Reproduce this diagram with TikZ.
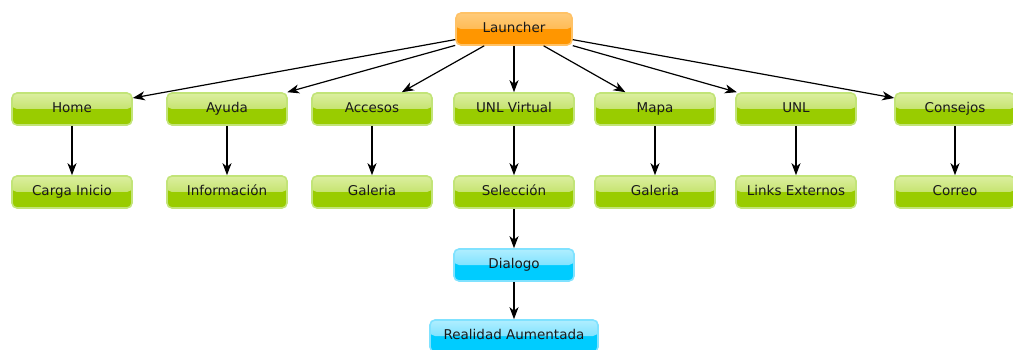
\documentclass[tikz,border=0pt]{standalone}
\usepackage{fontspec}
\setmainfont{DejaVu Sans}
\usetikzlibrary{arrows.meta}
\definecolor{grnTop}{HTML}{DCEFA0}
\definecolor{grnMid}{HTML}{B0D840}
\definecolor{grnBot}{HTML}{99CC00}
\definecolor{grnLine}{HTML}{C2E478}
\definecolor{orgTop}{HTML}{FFCB7A}
\definecolor{orgMid}{HTML}{FFAA30}
\definecolor{orgBot}{HTML}{FF9600}
\definecolor{orgLine}{HTML}{FFC266}
\definecolor{cynTop}{HTML}{B0EEFF}
\definecolor{cynMid}{HTML}{50D8FF}
\definecolor{cynBot}{HTML}{00CCFF}
\definecolor{cynLine}{HTML}{80E2FF}
\tikzset{
  box/.style n args={4}{rectangle, rounded corners=5pt, minimum width=120pt,
    minimum height=32pt, line width=1.6pt, draw=#4, fill=#3,
    font=\fontsize{13.5}{15}\selectfont, text=black!90,
    text height=0.8em, text depth=0.05em,
    path picture={\shade[top color=#1, bottom color=#2]
      (path picture bounding box.north west) rectangle (path picture bounding box.east);}},
  grnbox/.style={box={grnTop}{grnMid}{grnBot}{grnLine}},
  orgbox/.style={box={orgTop}{orgMid}{orgBot}{orgLine}},
  cynbox/.style={box={cynTop}{cynMid}{cynBot}{cynLine}},
  link/.style={-{Stealth[length=12pt,width=9pt,inset=3.5pt]}, line width=1.2pt}
}
\begin{document}
\begin{tikzpicture}[x=1pt,y=-1pt]
  \useasboundingbox (0,0) rectangle (1013,350);
  \node[orgbox, minimum width=116pt] (launcher) at (514,29) {Launcher};
  % first level
  \foreach \x/\t [count=\i from 1] in {72/Home,227/Ayuda,372/Accesos,514/UNL Virtual,655/Mapa,796/UNL,955/Consejos}
    {\node[grnbox] (m\i) at (\x,109) {\t};}
  % second level
  \foreach \x/\t [count=\i from 1] in {72/Carga Inicio,227/Información,372/Galeria,514/Selección,655/Galeria,796/Links Externos,955/Correo}
    {\node[grnbox] (s\i) at (\x,192) {\t};}
  \node[cynbox] (dialogo) at (514,265) {Dialogo};
  \node[cynbox, minimum width=168pt] (realidad) at (514,336) {Realidad Aumentada};
  \foreach \i in {1,...,7} {
    \draw[link] (launcher) -- (m\i);
    \draw[link] (m\i) -- (s\i);
  }
  \draw[link] (s4) -- (dialogo);
  \draw[link] (dialogo) -- (realidad);
\end{tikzpicture}
\end{document}
